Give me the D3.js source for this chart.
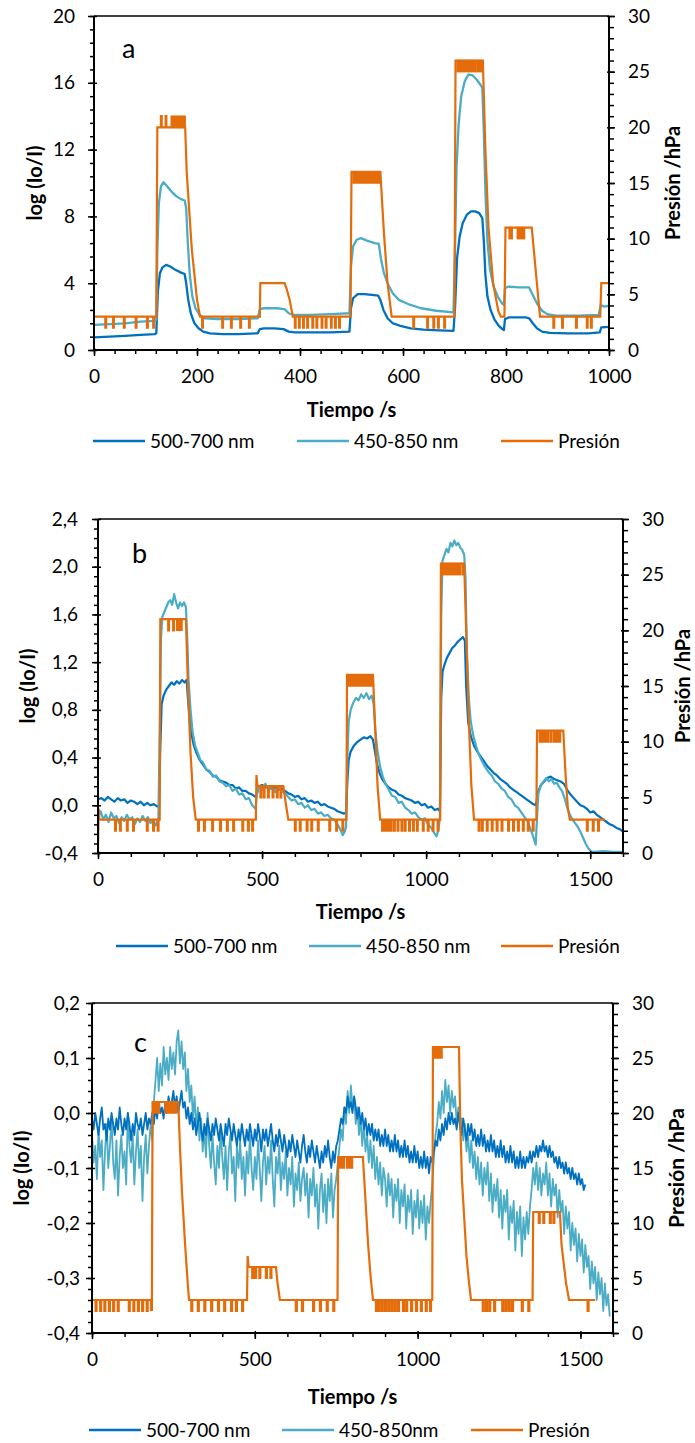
<!DOCTYPE html>
<html>
<head>
<meta charset="utf-8">
<script src="https://cdn.jsdelivr.net/npm/d3@7/dist/d3.min.js"></script>
<style>
  body { margin: 0; background: #fff; }
  svg text { font-family: Lato, "Noto Sans", sans-serif; fill: #000; }
</style>
</head>
<body>
<svg id="chart" width="695" height="1443"></svg>
<script>
/**
 * Absorbance vs time, three runs (a, b, c)
 * left axis: log (Io/I), right axis: pressure in hPa
 * all values
 */

// ---------- panel a ----------
var aXTicks = [0, 200, 400, 600, 800, 1000];
var aYTicks = [0, 4, 8, 12, 16, 20];
var a500 = [[0,0.75],[30,0.8],[60,0.85],[90,0.9],[118,0.95],[121,1.0],[124,3.5],[128,4.6],[133,4.95],[140,5.1],[148,5.0],[158,4.8],[168,4.65],[176,4.55],[179,4.0],[183,3.0],[188,2.2],[195,1.6],[203,1.3],[212,1.1],[225,1.0],[250,0.95],[280,0.95],[318,1.0],[322,1.25],[330,1.3],[350,1.3],[368,1.25],[378,1.1],[390,1.05],[420,1.05],[460,1.05],[496,1.1],[499,2.5],[503,3.1],[512,3.35],[525,3.35],[540,3.3],[552,3.25],[556,3.0],[562,2.4],[570,1.9],[580,1.6],[595,1.45],[615,1.3],[640,1.22],[670,1.18],[698,1.15],[701,2.5],[705,5.5],[710,6.8],[716,7.6],[724,8.1],[732,8.3],[740,8.3],[748,8.2],[754,7.9],[757,6.5],[760,4.5],[764,3.2],[770,2.4],[778,1.8],[786,1.45],[793,1.25],[796,1.2],[798,1.85],[805,1.95],[820,1.95],[838,1.95],[845,1.9],[852,1.6],[860,1.3],[870,1.1],[885,1.02],[920,1.0],[960,1.0],[982,1.05],[985,1.35],[1000,1.38]];
var a450 = [[0,1.5],[30,1.55],[60,1.6],[90,1.7],[118,1.75],[121,1.8],[123,6.0],[126,8.8],[130,9.8],[135,10.05],[142,9.8],[150,9.5],[160,9.2],[168,9.05],[176,8.95],[179,8.5],[182,6.5],[186,4.5],[191,3.2],[197,2.5],[205,2.1],[215,1.9],[240,1.85],[280,1.85],[318,1.9],[322,2.45],[330,2.5],[355,2.5],[370,2.45],[378,2.2],[388,2.1],[420,2.1],[460,2.15],[496,2.2],[499,5.0],[503,6.2],[510,6.6],[518,6.7],[530,6.55],[545,6.4],[553,6.35],[557,5.5],[563,4.6],[570,4.0],[580,3.4],[592,3.0],[610,2.75],[635,2.5],[665,2.35],[698,2.25],[701,6.0],[704,11],[708,13.5],[713,15.2],[720,16.1],[727,16.5],[735,16.45],[743,16.2],[750,15.9],[754,15.7],[757,13],[760,9.5],[764,6.5],[769,4.8],[776,3.8],[784,3.2],[792,2.8],[796,2.7],[798,3.7],[805,3.8],[825,3.75],[845,3.75],[852,3.3],[860,2.8],[870,2.35],[880,2.15],[900,2.05],[940,2.05],[980,2.1],[984,2.7],[990,2.6],[1000,2.65]];
var aPres = [[0,3],[121,3],[123,20],[177,20],[180,16],[190,9],[200,4.5],[206,3],[322,3],[323,6],[370,6],[374,5.5],[380,4.5],[386,3],[498,3],[500,16],[556,16],[563,10.5],[570,6],[578,3],[700,3],[702,26],[755,26],[760,18],[766,11],[775,6],[785,3.5],[790,3],[797,3],[799,11],[850,11],[858,7],[866,3],[983,3],[985,6],[1000,6]];
// [time, level, spike level]
var aPresSpikes = [[22,3,2],[37,3,2],[58,3,2],[81,3,2],[103,3,2],[115,3,2],[130,20,21],[139,20,21],
  [210,3,2],[249,3,2],[266,3,2],[284,3,2],[301,3,2],
  [390,3,2],[398,3,2],[406,3,2],[414,3,2],[424,3,2],[432,3,2],[442,3,2],[450,3,2],[460,3,2],[468,3,2],[476,3,2],
  [620,3,2],[647,3,2],[659,3,2],[668,3,2],[680,3,2],
  [892,3,2],[909,3,2],[936,3,2],[957,3,2],[965,3,2]];
// [from, to, low, high] where the reading flickers fast
var aPresBlocks = [[150,177,20,21],[503,556,15,16],[705,742,25,26],[745,755,25,26],[806,812,10,11],[822,836,10,11]];

// ---------- panel b ----------
var bXTicks = [0, 500, 1000, 1500];
var bYTicks = [-0.4, 0, 0.4, 0.8, 1.2, 1.6, 2.0, 2.4];
var b500 = [[0,0.05],[10,0.06],[20,0.04],[30,0.07],[40,0.05],[50,0.03],[60,0.06],[70,0.04],[80,0.05],[90,0.02],[100,0.04],[110,0.03],[120,0.01],[130,0.03],[140,0.0],[150,0.02],[160,0.0],[170,0.01],[180,-0.01],[186,0.0],[190,0.5],[194,0.85],[200,0.92],[208,0.97],[216,1.0],[224,1.03],[232,1.01],[240,1.04],[248,1.02],[256,1.05],[264,1.03],[270,1.05],[274,0.9],[280,0.7],[286,0.58],[292,0.5],[300,0.44],[310,0.38],[320,0.34],[330,0.3],[340,0.28],[350,0.25],[360,0.24],[370,0.21],[380,0.2],[390,0.19],[400,0.17],[410,0.17],[420,0.14],[430,0.15],[440,0.12],[450,0.12],[460,0.1],[470,0.09],[480,0.07],[485,0.1],[490,0.16],[500,0.17],[510,0.15],[520,0.16],[530,0.14],[540,0.15],[550,0.13],[560,0.14],[570,0.12],[580,0.1],[590,0.09],[600,0.07],[610,0.08],[620,0.05],[630,0.06],[640,0.03],[650,0.04],[660,0.02],[670,0.03],[680,0.0],[690,0.01],[700,-0.01],[710,-0.02],[720,-0.03],[730,-0.05],[740,-0.06],[750,-0.07],[756,-0.06],[760,0.2],[764,0.38],[770,0.45],[780,0.5],[790,0.53],[800,0.55],[810,0.57],[820,0.56],[830,0.58],[838,0.55],[844,0.45],[850,0.35],[858,0.27],[866,0.22],[876,0.18],[886,0.15],[896,0.13],[906,0.12],[916,0.09],[926,0.08],[936,0.06],[946,0.05],[956,0.04],[966,0.02],[976,0.03],[986,0.0],[996,0.01],[1006,-0.02],[1016,-0.01],[1026,-0.04],[1036,-0.03],[1042,-0.05],[1046,0.9],[1050,1.12],[1056,1.18],[1064,1.24],[1072,1.28],[1080,1.32],[1088,1.34],[1096,1.37],[1104,1.39],[1112,1.41],[1118,1.38],[1122,1.0],[1128,0.7],[1136,0.58],[1146,0.5],[1156,0.45],[1166,0.41],[1176,0.37],[1186,0.33],[1196,0.3],[1206,0.27],[1216,0.25],[1226,0.22],[1236,0.2],[1246,0.18],[1256,0.15],[1266,0.13],[1276,0.11],[1286,0.09],[1296,0.07],[1306,0.05],[1316,0.03],[1326,0.01],[1334,0.0],[1338,0.05],[1342,0.12],[1350,0.17],[1360,0.2],[1370,0.23],[1380,0.24],[1390,0.22],[1400,0.21],[1410,0.2],[1420,0.18],[1430,0.13],[1440,0.09],[1450,0.06],[1460,0.03],[1470,0.0],[1480,-0.01],[1490,-0.03],[1500,-0.06],[1510,-0.05],[1520,-0.08],[1530,-0.1],[1540,-0.12],[1550,-0.14],[1560,-0.16],[1570,-0.17],[1580,-0.19],[1590,-0.2],[1600,-0.22]];
var b450 = [[0,-0.1],[8,-0.05],[16,-0.12],[24,-0.08],[32,-0.14],[40,-0.06],[48,-0.11],[56,-0.09],[64,-0.15],[72,-0.1],[80,-0.13],[88,-0.08],[96,-0.12],[104,-0.1],[112,-0.16],[120,-0.11],[128,-0.14],[136,-0.09],[144,-0.13],[152,-0.1],[160,-0.15],[168,-0.12],[176,-0.17],[184,-0.12],[188,0.6],[192,1.4],[196,1.58],[202,1.62],[208,1.66],[214,1.7],[220,1.72],[226,1.68],[232,1.77],[238,1.7],[244,1.65],[250,1.7],[256,1.67],[262,1.7],[268,1.66],[272,1.4],[276,1.05],[282,0.8],[288,0.62],[296,0.5],[304,0.44],[312,0.38],[320,0.36],[330,0.3],[340,0.29],[350,0.24],[360,0.25],[370,0.2],[380,0.19],[390,0.16],[400,0.17],[410,0.12],[420,0.14],[430,0.09],[440,0.1],[450,0.05],[460,0.06],[470,0.0],[480,-0.03],[484,0.1],[490,0.16],[500,0.13],[510,0.18],[520,0.12],[530,0.16],[540,0.11],[550,0.15],[560,0.12],[570,0.1],[580,0.07],[590,0.04],[600,0.05],[610,0.01],[620,0.02],[630,-0.02],[640,0.0],[650,-0.04],[660,-0.03],[670,-0.07],[680,-0.06],[690,-0.09],[700,-0.08],[710,-0.11],[720,-0.12],[730,-0.16],[738,-0.2],[746,-0.25],[752,-0.22],[756,-0.18],[760,0.4],[764,0.7],[770,0.8],[778,0.86],[786,0.9],[794,0.88],[802,0.93],[810,0.9],[818,0.94],[826,0.89],[834,0.92],[840,0.85],[846,0.6],[852,0.45],[860,0.32],[868,0.24],[876,0.18],[886,0.13],[896,0.08],[906,0.07],[916,0.02],[926,0.03],[936,-0.02],[946,-0.04],[956,-0.07],[966,-0.06],[976,-0.1],[986,-0.12],[996,-0.11],[1006,-0.16],[1016,-0.19],[1024,-0.23],[1032,-0.26],[1038,-0.2],[1042,-0.1],[1046,1.6],[1050,2.05],[1056,2.1],[1062,2.15],[1068,2.12],[1074,2.2],[1080,2.17],[1086,2.22],[1092,2.18],[1098,2.2],[1104,2.16],[1110,2.14],[1116,2.1],[1120,1.9],[1124,1.3],[1130,0.9],[1136,0.7],[1144,0.58],[1152,0.5],[1160,0.43],[1170,0.37],[1180,0.32],[1190,0.28],[1200,0.25],[1210,0.2],[1220,0.18],[1230,0.14],[1240,0.12],[1250,0.07],[1260,0.05],[1270,0.0],[1280,-0.02],[1290,-0.06],[1300,-0.1],[1310,-0.14],[1318,-0.2],[1326,-0.26],[1334,-0.33],[1338,-0.1],[1342,0.1],[1350,0.17],[1358,0.2],[1366,0.23],[1374,0.2],[1382,0.22],[1390,0.18],[1398,0.19],[1406,0.15],[1414,0.12],[1422,0.06],[1430,-0.02],[1438,-0.08],[1446,-0.12],[1454,-0.15],[1462,-0.18],[1470,-0.22],[1478,-0.27],[1486,-0.32],[1494,-0.36],[1502,-0.385],[1510,-0.39],[1540,-0.385],[1570,-0.39],[1600,-0.39]];
var bPres = [[0,0.5],[2,4],[4,3],[188,3],[190,21],[268,21],[274,15],[282,9],[290,5],[298,3],[481,3],[483,7],[486,6],[565,6],[572,4.5],[580,3],[757,3],[759,16],[838,16],[845,11],[852,6],[860,3],[1043,3],[1045,26],[1116,26],[1122,20],[1130,12],[1138,6],[1146,3],[1336,3],[1338,11],[1418,11],[1425,7],[1432,4],[1438,3],[1545,3]];
var bPresSpikes = [[52,3,2],[67,3,2],[88,3,2],[107,3,2],[149,3,2],[168,3,2],[182,3,2],
  [214,21,20],[229,21,20],
  [305,3,2],[323,3,2],[348,3,2],[372,3,2],[393,3,2],[412,3,2],[440,3,2],[457,3,2],[470,3,2],
  [495,6,5],[505,6,5],[518,6,5],[532,6,5],[545,6,5],[556,6,5],
  [600,3,2],[615,3,2],[636,3,2],[650,3,2],[670,3,2],[705,3,2],[726,3,2],[745,3,2],
  [866,3,2],[874,3,2],[883,3,2],[892,3,2],[902,3,2],[913,3,2],[925,3,2],[935,3,2],[948,3,2],[960,3,2],[972,3,2],[990,3,2],[1005,3,2],[1020,3,2],[1035,3,2],
  [1160,3,2],[1170,3,2],[1185,3,2],[1200,3,2],[1215,3,2],[1230,3,2],[1250,3,2],[1265,3,2],[1280,3,2],[1295,3,2],[1310,3,2],[1325,3,2],
  [1346,11,10],[1354,11,10],[1362,11,10],[1370,11,10],[1380,11,10],[1390,11,10],[1398,11,10],[1406,11,10],
  [1490,3,2],[1508,3,2],[1524,3,2]];
var bPresBlocks = [[240,256,20,21],[760,836,15,16],[1047,1105,25,26],[1110,1116,25,26]];

// ---------- panel c ----------
var cXTicks = [0, 500, 1000, 1500];
var cYTicks = [-0.4, -0.3, -0.2, -0.1, 0, 0.1, 0.2];
var c500 = [[0,-0.01],[5,-0.03],[10,0.0],[15,-0.02],[20,-0.04],[25,-0.01],[30,0.01],[35,-0.03],[40,-0.02],[45,-0.05],[50,-0.01],[55,-0.03],[60,0.0],[65,-0.02],[70,-0.04],[75,-0.01],[80,-0.03],[85,0.01],[90,-0.02],[95,-0.04],[100,-0.01],[105,-0.03],[110,0.0],[115,-0.02],[120,-0.05],[125,-0.02],[130,-0.04],[135,0.0],[140,-0.02],[145,-0.03],[150,-0.01],[155,-0.04],[160,-0.02],[165,0.0],[170,-0.03],[175,-0.01],[180,-0.02],[185,0.0],[190,-0.02],[195,0.01],[200,-0.01],[205,0.02],[210,0.0],[215,0.01],[220,-0.01],[225,0.02],[230,0.0],[235,0.03],[240,0.01],[245,0.02],[250,0.04],[255,0.01],[260,0.03],[265,0.0],[270,0.02],[275,0.04],[280,0.01],[285,0.02],[290,-0.01],[295,0.01],[300,-0.02],[305,0.0],[310,-0.03],[315,-0.01],[320,-0.04],[325,-0.02],[330,0.0],[335,-0.03],[340,-0.05],[345,-0.02],[350,-0.04],[355,-0.01],[360,-0.03],[365,-0.05],[370,-0.02],[375,-0.04],[380,-0.01],[385,-0.03],[390,-0.05],[395,-0.02],[400,-0.04],[405,-0.06],[410,-0.02],[415,-0.04],[420,-0.01],[425,-0.03],[430,-0.05],[435,-0.02],[440,-0.04],[445,-0.06],[450,-0.03],[455,-0.05],[460,-0.02],[465,-0.04],[470,-0.06],[475,-0.03],[480,-0.05],[485,-0.02],[490,-0.04],[495,-0.06],[500,-0.03],[505,-0.05],[510,-0.02],[515,-0.04],[520,-0.07],[525,-0.03],[530,-0.05],[535,-0.03],[540,-0.06],[545,-0.04],[550,-0.02],[555,-0.05],[560,-0.07],[565,-0.04],[570,-0.06],[575,-0.03],[580,-0.05],[585,-0.07],[590,-0.04],[595,-0.06],[600,-0.08],[605,-0.05],[610,-0.07],[615,-0.04],[620,-0.06],[625,-0.08],[630,-0.05],[635,-0.07],[640,-0.09],[645,-0.06],[650,-0.04],[655,-0.07],[660,-0.09],[665,-0.06],[670,-0.08],[675,-0.05],[680,-0.07],[685,-0.09],[690,-0.06],[695,-0.08],[700,-0.1],[705,-0.07],[710,-0.09],[715,-0.06],[720,-0.08],[725,-0.05],[730,-0.08],[735,-0.1],[740,-0.07],[745,-0.09],[750,-0.06],[755,-0.05],[760,-0.03],[765,-0.01],[770,-0.02],[775,0.01],[780,0.0],[785,0.03],[790,0.01],[795,0.02],[800,0.0],[805,0.03],[810,0.01],[815,-0.01],[820,0.01],[825,-0.02],[830,0.0],[835,-0.03],[840,-0.01],[845,-0.04],[850,-0.02],[855,-0.04],[860,-0.02],[865,-0.05],[870,-0.03],[875,-0.05],[880,-0.03],[885,-0.06],[890,-0.04],[895,-0.06],[900,-0.03],[905,-0.06],[910,-0.04],[915,-0.07],[920,-0.05],[925,-0.07],[930,-0.04],[935,-0.07],[940,-0.05],[945,-0.08],[950,-0.06],[955,-0.08],[960,-0.05],[965,-0.08],[970,-0.06],[975,-0.09],[980,-0.07],[985,-0.09],[990,-0.06],[995,-0.09],[1000,-0.07],[1005,-0.1],[1010,-0.08],[1015,-0.1],[1020,-0.07],[1025,-0.1],[1030,-0.08],[1035,-0.11],[1040,-0.08],[1045,-0.09],[1050,-0.07],[1055,-0.05],[1060,-0.06],[1065,-0.03],[1070,-0.05],[1075,-0.02],[1080,-0.04],[1085,-0.01],[1090,-0.03],[1095,0.0],[1100,-0.02],[1105,0.0],[1110,-0.02],[1115,-0.01],[1120,-0.03],[1125,0.0],[1130,-0.02],[1135,-0.04],[1140,-0.01],[1145,-0.03],[1150,-0.05],[1155,-0.02],[1160,-0.04],[1165,-0.02],[1170,-0.05],[1175,-0.03],[1180,-0.06],[1185,-0.04],[1190,-0.06],[1195,-0.03],[1200,-0.06],[1205,-0.04],[1210,-0.07],[1215,-0.05],[1220,-0.07],[1225,-0.04],[1230,-0.07],[1235,-0.05],[1240,-0.08],[1245,-0.06],[1250,-0.08],[1255,-0.05],[1260,-0.08],[1265,-0.06],[1270,-0.09],[1275,-0.07],[1280,-0.09],[1285,-0.06],[1290,-0.09],[1295,-0.07],[1300,-0.1],[1305,-0.08],[1310,-0.1],[1315,-0.07],[1320,-0.1],[1325,-0.08],[1330,-0.1],[1335,-0.08],[1340,-0.09],[1345,-0.07],[1350,-0.09],[1355,-0.07],[1360,-0.08],[1365,-0.06],[1370,-0.08],[1375,-0.06],[1380,-0.07],[1385,-0.05],[1390,-0.07],[1395,-0.06],[1400,-0.08],[1405,-0.06],[1410,-0.08],[1415,-0.07],[1420,-0.09],[1425,-0.08],[1430,-0.1],[1435,-0.08],[1440,-0.1],[1445,-0.09],[1450,-0.11],[1455,-0.09],[1460,-0.11],[1465,-0.1],[1470,-0.12],[1475,-0.1],[1480,-0.12],[1485,-0.11],[1490,-0.13],[1495,-0.11],[1500,-0.13],[1505,-0.12],[1510,-0.14],[1515,-0.13]];
var c450 = [[0,-0.04],[5,-0.09],[10,-0.06],[15,-0.12],[20,-0.03],[25,-0.08],[30,-0.05],[35,-0.14],[40,-0.07],[45,-0.02],[50,-0.1],[55,-0.06],[60,-0.01],[65,-0.09],[70,-0.12],[75,-0.05],[80,-0.15],[85,-0.08],[90,-0.04],[95,-0.1],[100,-0.07],[105,-0.13],[110,0.0],[115,-0.06],[120,-0.09],[125,-0.04],[130,-0.13],[135,-0.07],[140,-0.03],[145,-0.1],[150,-0.06],[155,-0.16],[160,-0.08],[165,-0.04],[170,-0.11],[175,-0.06],[180,-0.02],[185,-0.05],[190,0.02],[195,0.06],[200,0.1],[205,0.04],[210,0.09],[215,0.05],[220,0.12],[225,0.07],[230,0.1],[235,0.06],[240,0.12],[245,0.08],[250,0.11],[255,0.07],[260,0.13],[265,0.15],[270,0.09],[275,0.13],[280,0.08],[285,0.11],[290,0.04],[295,0.08],[300,0.02],[305,0.05],[310,-0.01],[315,0.03],[320,-0.03],[325,0.01],[330,-0.05],[335,-0.01],[340,-0.07],[345,-0.03],[350,-0.08],[355,0.0],[360,-0.06],[365,-0.1],[370,-0.04],[375,-0.09],[380,-0.13],[385,-0.06],[390,-0.1],[395,-0.03],[400,-0.08],[405,-0.12],[410,-0.06],[415,-0.14],[420,-0.07],[425,-0.04],[430,-0.11],[435,-0.08],[440,-0.16],[445,-0.06],[450,-0.1],[455,-0.05],[460,-0.12],[465,-0.08],[470,-0.15],[475,-0.07],[480,-0.11],[485,-0.04],[490,-0.1],[495,-0.14],[500,-0.08],[505,-0.12],[510,-0.05],[515,-0.1],[520,-0.16],[525,-0.09],[530,-0.06],[535,-0.13],[540,-0.08],[545,-0.11],[550,-0.05],[555,-0.12],[560,-0.17],[565,-0.08],[570,-0.11],[575,-0.06],[580,-0.14],[585,-0.09],[590,-0.12],[595,-0.07],[600,-0.15],[605,-0.1],[610,-0.13],[615,-0.08],[620,-0.17],[625,-0.11],[630,-0.14],[635,-0.09],[640,-0.16],[645,-0.12],[650,-0.1],[655,-0.15],[660,-0.11],[665,-0.19],[670,-0.12],[675,-0.15],[680,-0.1],[685,-0.17],[690,-0.13],[695,-0.21],[700,-0.14],[705,-0.11],[710,-0.18],[715,-0.13],[720,-0.2],[725,-0.12],[730,-0.16],[735,-0.11],[740,-0.19],[745,-0.14],[750,-0.12],[755,-0.09],[760,-0.06],[765,-0.03],[770,-0.05],[775,0.01],[780,-0.02],[785,0.04],[790,0.0],[795,0.05],[800,0.01],[805,0.03],[810,-0.02],[815,0.01],[820,-0.04],[825,-0.01],[830,-0.06],[835,-0.02],[840,-0.07],[845,-0.04],[850,-0.09],[855,-0.05],[860,-0.1],[865,-0.06],[870,-0.12],[875,-0.08],[880,-0.13],[885,-0.09],[890,-0.15],[895,-0.1],[900,-0.12],[905,-0.17],[910,-0.11],[915,-0.15],[920,-0.12],[925,-0.19],[930,-0.13],[935,-0.16],[940,-0.12],[945,-0.2],[950,-0.14],[955,-0.17],[960,-0.13],[965,-0.21],[970,-0.15],[975,-0.18],[980,-0.14],[985,-0.22],[990,-0.16],[995,-0.19],[1000,-0.14],[1005,-0.21],[1010,-0.16],[1015,-0.2],[1020,-0.15],[1025,-0.23],[1030,-0.17],[1035,-0.2],[1040,-0.16],[1045,-0.13],[1050,-0.08],[1055,-0.04],[1060,-0.02],[1065,0.02],[1070,-0.01],[1075,0.04],[1080,0.0],[1085,0.06],[1090,0.02],[1095,0.05],[1100,0.0],[1105,0.04],[1110,0.01],[1115,0.03],[1120,-0.02],[1125,0.01],[1130,-0.03],[1135,-0.01],[1140,-0.05],[1145,-0.02],[1150,-0.07],[1155,-0.04],[1160,-0.09],[1165,-0.05],[1170,-0.1],[1175,-0.07],[1180,-0.12],[1185,-0.08],[1190,-0.13],[1195,-0.09],[1200,-0.15],[1205,-0.1],[1210,-0.13],[1215,-0.09],[1220,-0.16],[1225,-0.11],[1230,-0.18],[1235,-0.13],[1240,-0.16],[1245,-0.12],[1250,-0.19],[1255,-0.14],[1260,-0.21],[1265,-0.15],[1270,-0.18],[1275,-0.14],[1280,-0.23],[1285,-0.17],[1290,-0.2],[1295,-0.16],[1300,-0.25],[1305,-0.18],[1310,-0.22],[1315,-0.17],[1320,-0.26],[1325,-0.19],[1330,-0.23],[1335,-0.18],[1340,-0.22],[1345,-0.17],[1350,-0.14],[1355,-0.1],[1360,-0.13],[1365,-0.09],[1370,-0.14],[1375,-0.1],[1380,-0.15],[1385,-0.11],[1390,-0.13],[1395,-0.09],[1400,-0.15],[1405,-0.11],[1410,-0.17],[1415,-0.12],[1420,-0.15],[1425,-0.13],[1430,-0.19],[1435,-0.14],[1440,-0.18],[1445,-0.16],[1450,-0.22],[1455,-0.17],[1460,-0.21],[1465,-0.18],[1470,-0.25],[1475,-0.2],[1480,-0.24],[1485,-0.21],[1490,-0.27],[1495,-0.22],[1500,-0.26],[1505,-0.23],[1510,-0.29],[1515,-0.24],[1520,-0.28],[1525,-0.26],[1530,-0.32],[1535,-0.27],[1540,-0.31],[1545,-0.28],[1550,-0.34],[1555,-0.29],[1560,-0.33],[1565,-0.3],[1570,-0.36],[1575,-0.31],[1580,-0.35],[1585,-0.33],[1590,-0.37]];
var cPres = [[0,3],[184,3],[186,21],[265,21],[270,17],[276,13],[286,8],[294,4.5],[298,3],[476,3],[478,7],[481,6],[565,6],[570,4.5],[577,3],[754,3],[756,16],[832,16],[836,14],[848,8],[856,5],[863,3],[1045,3],[1047,26],[1127,26],[1131,19],[1136,14],[1150,7],[1158,4.5],[1164,3],[1353,3],[1355,11],[1437,11],[1442,8],[1450,6],[1456,4.5],[1465,3],[1545,3]];
var cPresSpikes = [[11,3,2],[25,3,2],[38,3,2],[52,3,2],[65,3,2],[79,3,2],[113,3,2],[127,3,2],[141,3,2],[154,3,2],[168,3,2],[181,3,2],
  [305,3,2],[325,3,2],[345,3,2],[366,3,2],[387,3,2],[406,3,2],[427,3,2],[442,3,2],[461,3,2],
  [492,6,5],[501,6,5],[514,6,5],[534,6,5],[548,6,5],
  [626,3,2],[645,3,2],[679,3,2],[700,3,2],[721,3,2],[741,3,2],
  [872,3,2],[880,3,2],[890,3,2],[900,3,2],[910,3,2],[920,3,2],[930,3,2],[940,3,2],[955,3,2],[965,3,2],[980,3,2],[995,3,2],[1010,3,2],[1025,3,2],[1038,3,2],
  [1200,3,2],[1210,3,2],[1220,3,2],[1235,3,2],[1260,3,2],[1270,3,2],[1280,3,2],[1290,3,2],[1320,3,2],[1340,3,2],
  [1372,11,10],[1386,11,10],[1406,11,10],[1417,11,10],
  [1522,3,2]];
var cPresBlocks = [[188,207,20,21],[224,259,20,21],[760,775,15,16],[782,800,15,16],[1052,1075,25,26]];

var presTicks = [0, 5, 10, 15, 20, 25, 30];

var blue = "#0070c0", cyan = "#4bacc6", orange = "#e46c0a";
var svg = d3.select("#chart");

// spanish number format: comma decimal, plain hyphen minus
var es = d3.formatLocale({decimal: ",", thousands: ".", grouping: [3], currency: ["", ""], minus: "-"});

// merge the spikes into the pressure line, each spike is a narrow square pulse
function withSpikes(main, spikes, w) {
  var pts = main.map(d => [d[0], d[1]]);
  spikes.forEach(s => {
    pts.push([s[0], s[1]], [s[0], s[2]], [s[0] + w, s[2]], [s[0] + w, s[1]]);
  });
  return pts.sort((p, q) => p[0] - q[0]);
}

function drawPanel(p) {
  var x = d3.scaleLinear().domain([0, p.xMax]).range([p.left, p.right]);
  var yL = d3.scaleLinear().domain(p.yDomain).range([p.bottom, p.top]);
  var yR = d3.scaleLinear().domain([0, 30]).range([p.bottom, p.top]);

  var clipId = "clip-" + p.name;
  svg.append("clipPath").attr("id", clipId)
    .append("rect")
    .attr("x", p.left).attr("y", p.top - 1)
    .attr("width", p.right - p.left).attr("height", p.bottom - p.top + 2);

  var plot = svg.append("g").attr("clip-path", `url(#${clipId})`);

  var lineL = d3.line().x(d => x(d[0])).y(d => yL(d[1]));
  var lineR = d3.line().x(d => x(d[0])).y(d => yR(d[1]));

  // series order decides what sits on top
  p.order.forEach(s => {
    plot.append("path")
      .datum(s.data)
      .attr("d", lineL)
      .attr("fill", "none")
      .attr("stroke", s.color)
      .attr("stroke-width", p.lineW)
      .attr("stroke-linejoin", "round");
  });

  // pressure (secondary axis)
  plot.selectAll(".block")
    .data(p.blocks)
    .enter()
    .append("rect")
    .attr("x", d => x(d[0]))
    .attr("width", d => x(d[1]) - x(d[0]))
    .attr("y", d => yR(d[3]))
    .attr("height", d => yR(d[2]) - yR(d[3]))
    .attr("fill", orange)
    .attr("stroke", orange)
    .attr("stroke-width", 1.5);

  plot.append("path")
    .datum(withSpikes(p.pres, p.spikes, p.spikeW))
    .attr("d", lineR)
    .attr("fill", "none")
    .attr("stroke", orange)
    .attr("stroke-width", 2.2);

  // frame
  svg.append("line").attr("x1", p.left).attr("x2", p.right).attr("y1", p.top).attr("y2", p.top)
    .attr("stroke", "#000").attr("stroke-width", 1.4);
  [[p.left, p.top, p.left, p.bottom], [p.right, p.top, p.right, p.bottom], [p.left, p.bottom, p.right, p.bottom]]
    .forEach(l => {
      svg.append("line").attr("x1", l[0]).attr("y1", l[1]).attr("x2", l[2]).attr("y2", l[3])
        .attr("stroke", "#000").attr("stroke-width", 2);
    });

  // x axis: minor then major ticks
  var gxm = svg.append("g").attr("transform", `translate(0,${p.bottom})`)
    .call(d3.axisBottom(x).tickValues(d3.range(0, p.xMax + 1, p.xMinor)).tickSize(4).tickSizeOuter(0).tickFormat(""));
  var gx = svg.append("g").attr("transform", `translate(0,${p.bottom})`)
    .call(d3.axisBottom(x).tickValues(p.xTicks).tickSize(6).tickSizeOuter(0).tickPadding(14).tickFormat(d3.format("d")));
  gx.selectAll(".tick line").attr("y1", -2);

  // left axis
  var gym = svg.append("g").attr("transform", `translate(${p.left},0)`)
    .call(d3.axisLeft(yL).tickValues(d3.range(0, Math.round((p.yDomain[1] - p.yDomain[0]) / p.yMinor) + 1).map(i => p.yDomain[0] + i * p.yMinor))
      .tickSize(4).tickSizeOuter(0).tickFormat(""));
  var gy = svg.append("g").attr("transform", `translate(${p.left},0)`)
    .call(d3.axisLeft(yL).tickValues(p.yTicks).tickSize(6).tickSizeOuter(0).tickPadding(p.padL).tickFormat(es.format(p.fmt)));
  gy.selectAll(".tick line").attr("x1", 3);

  // right axis
  var grm = svg.append("g").attr("transform", `translate(${p.right},0)`)
    .call(d3.axisRight(yR).tickValues(d3.range(0, 31)).tickSize(5).tickSizeOuter(0).tickFormat(""));
  var gr = svg.append("g").attr("transform", `translate(${p.right},0)`)
    .call(d3.axisRight(yR).tickValues(presTicks).tickSize(6).tickSizeOuter(0).tickPadding(13).tickFormat(d3.format("d")));
  gr.selectAll(".tick line").attr("x1", -2);

  [gxm, gx, gym, gy, grm, gr].forEach(g => {
    g.select(".domain").remove();
    g.selectAll(".tick line").attr("stroke", "#000").attr("stroke-width", 1.5);
    g.selectAll("text").attr("font-size", 19).attr("font-family", "Lato, sans-serif");
  });

  // titles
  svg.append("text")
    .attr("x", (p.left + p.right) / 2).attr("y", p.xTitleY)
    .attr("dy", "0.35em")
    .attr("text-anchor", "middle")
    .attr("font-size", 20).attr("font-weight", "bold")
    .text("Tiempo /s");
  svg.append("text")
    .attr("transform", `translate(${p.yTitleX},${(p.top + p.bottom) / 2}) rotate(-90)`)
    .attr("dy", "0.35em")
    .attr("text-anchor", "middle")
    .attr("font-size", 20).attr("font-weight", "bold")
    .text("log (Io/I)");
  svg.append("text")
    .attr("transform", `translate(${p.rTitleX},${(p.top + p.bottom) / 2}) rotate(-90)`)
    .attr("dy", "0.35em")
    .attr("text-anchor", "middle")
    .attr("font-size", p.rTitleSize).attr("font-weight", "bold")
    .text("Presión /hPa");

  svg.append("text")
    .attr("x", p.letter[0]).attr("y", p.letter[1])
    .attr("font-size", 27)
    .text(p.name);

  // legend
  var legend = svg.append("g").attr("transform", `translate(0,${p.legendY})`);
  p.legend.forEach(it => {
    legend.append("line")
      .attr("x1", it.x).attr("x2", it.x + 52)
      .attr("stroke", it.color).attr("stroke-width", 2.5);
    legend.append("text")
      .attr("x", it.x + 57).attr("dy", "0.35em")
      .attr("font-size", 19)
      .text(it.label);
  });
}

drawPanel({
  name: "a", left: 94, right: 609, top: 16, bottom: 350,
  xMax: 1000, xTicks: aXTicks, xMinor: 40,
  yDomain: [0, 20], yTicks: aYTicks, yMinor: 0.8, fmt: "d", padL: 13,
  order: [{data: a500, color: blue}, {data: a450, color: cyan}], lineW: 2.3,
  pres: aPres, spikes: aPresSpikes, blocks: aPresBlocks, spikeW: 1.5,
  xTitleY: 410, yTitleX: 35, rTitleX: 673, rTitleSize: 20,
  letter: [122, 58], legendY: 441,
  legend: [{x: 93, color: blue, label: "500-700 nm"}, {x: 297, color: cyan, label: "450-850 nm"}, {x: 501, color: orange, label: "Presión"}]
});

drawPanel({
  name: "b", left: 98, right: 623, top: 519, bottom: 853,
  xMax: 1600, xTicks: bXTicks, xMinor: 100,
  yDomain: [-0.4, 2.4], yTicks: bYTicks, yMinor: 0.08, fmt: ".1f", padL: 14,
  order: [{data: b500, color: blue}, {data: b450, color: cyan}], lineW: 2.2,
  pres: bPres, spikes: bPresSpikes, blocks: bPresBlocks, spikeW: 2.5,
  xTitleY: 912, yTitleX: 28, rTitleX: 683, rTitleSize: 20,
  letter: [132, 563], legendY: 946,
  legend: [{x: 116, color: blue, label: "500-700 nm"}, {x: 309, color: cyan, label: "450-850 nm"}, {x: 501, color: orange, label: "Presión"}]
});

drawPanel({
  name: "c", left: 92, right: 613, top: 1003, bottom: 1333,
  xMax: 1600, xTicks: cXTicks, xMinor: 100,
  yDomain: [-0.4, 0.2], yTicks: cYTicks, yMinor: 0.02, fmt: ".1f", padL: 6,
  order: [{data: c450, color: cyan}, {data: c500, color: blue}], lineW: 1.8,
  pres: cPres, spikes: cPresSpikes, blocks: cPresBlocks, spikeW: 3,
  xTitleY: 1397, yTitleX: 22, rTitleX: 677, rTitleSize: 21,
  letter: [134, 1052], legendY: 1430,
  legend: [{x: 89, color: blue, label: "500-700 nm"}, {x: 282, color: cyan, label: "450-850nm"}, {x: 471, color: orange, label: "Presión"}]
});
</script>
</body>
</html>
